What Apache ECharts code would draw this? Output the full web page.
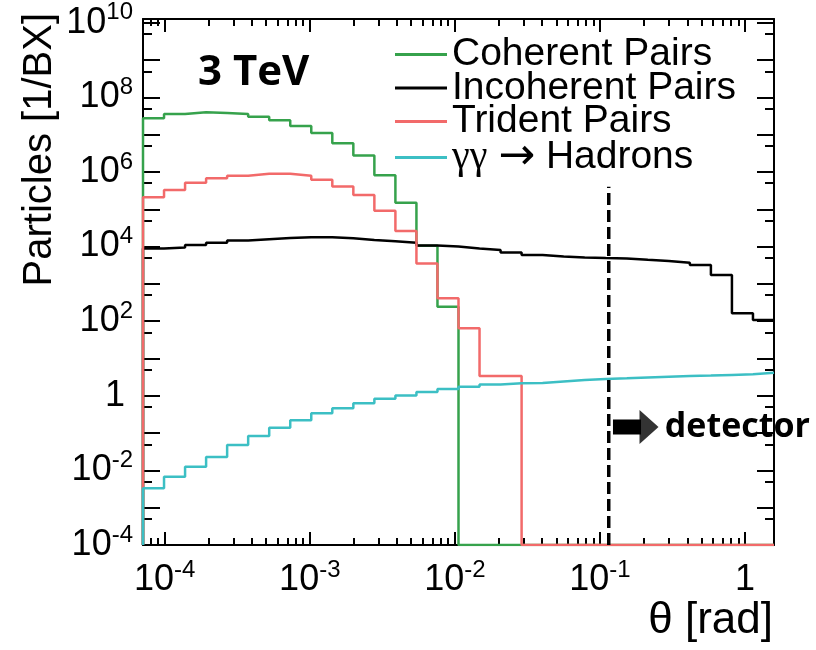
<!DOCTYPE html>
<html>
<head>
<meta charset="utf-8">
<script src="https://cdn.jsdelivr.net/npm/echarts@6/dist/echarts.min.js"></script>
<style>
  html, body { margin: 0; padding: 0; background: #fff; }
  #chart { width: 816px; height: 650px; }
</style>
</head>
<body>
<div id="chart"></div>
<script>
// bin edges of the histograms, as log10(theta / rad)
const logThetaEdges = [-4.15, -4.005, -3.86, -3.715, -3.57, -3.425, -3.28, -3.135, -2.99, -2.845,
  -2.7, -2.555, -2.41, -2.265, -2.12, -1.975, -1.83, -1.685, -1.54, -1.395,
  -1.25, -1.105, -0.96, -0.815, -0.67, -0.525, -0.38, -0.235, -0.09, 0.055, 0.2];

// particles per bunch crossing, one value per bin
const coherentPairs = [2.75e7, 3.55e7, 4.0e7, 3.8e7, 3.55e7, 3.0e7, 2.45e7, 1.7e7, 1.1e7, 5.9e6,
  2.75e6, 8.1e5, 1.5e5, 1.05e4, 245, 0, 0, 0, 0, 0,
  0, 0, 0, 0, 0, 0, 0, 0, 0, 0];
const incoherentPairs = [8.9e3, 9.5e3, 1.1e4, 1.26e4, 1.45e4, 1.58e4, 1.7e4, 1.78e4, 1.78e4, 1.66e4,
  1.51e4, 1.38e4, 1.26e4, 1.07e4, 1.0e4, 8.9e3, 8.1e3, 6.9e3, 5.9e3, 5.4e3,
  5.1e3, 4.9e3, 4.8e3, 4.4e3, 4.1e3, 3.7e3, 3.2e3, 1.74e3, 162, 107];
const tridentPairs = [2.1e5, 3.3e5, 5.1e5, 6.8e5, 7.9e5, 8.9e5, 8.9e5, 7.9e5, 6.2e5, 4.1e5,
  2.4e5, 9.1e4, 2.6e4, 3.5e3, 410, 65, 3.4, 3.4, 0, 0,
  0, 0, 0, 0, 0, 0, 0, 0, 0, 0];
const hadrons = [3.3e-3, 6.8e-3, 1.26e-2, 2.3e-2, 4.8e-2, 8.3e-2, 0.14, 0.22, 0.34, 0.46,
  0.63, 0.83, 1.02, 1.26, 1.51, 1.74, 2.0, 2.16, 2.19, 2.4,
  2.63, 2.82, 2.95, 3.09, 3.24, 3.39, 3.47, 3.63, 3.8, 4.17];

const seriesNames = ['Coherent Pairs', 'Incoherent Pairs', 'Trident Pairs', 'γγ → Hadrons'];
const seriesColors = ['#36a24c', '#000000', '#f26a6a', '#3cbfc4'];

// decades that carry a label
const xLabelExp = [-4, -3, -2, -1, 0];
const yLabelExp = [-4, -2, 0, 2, 4, 6, 8, 10];

// detector annotation (theta in rad, particles)
const detectorTheta = 0.115;
const detectorLineTop = 4e5;
const arrowFrom = 0.123, arrowTo = 0.192, arrowHead = 0.218, arrowLevel = 0.146;
const detectorTextTheta = 0.28;

const xMin = -4.15, xMax = 0.2;
const yMin = -4, yMax = 10.1;

const lg = v => Math.log10(v);

// ticks: long at every decade, short ones in between
let xMajor = [], xMinor = [];
for (let n = -5; n <= 0; n++) {
  if (n >= xMin && n <= xMax) xMajor.push(n);
  for (let m = 2; m <= 9; m++) {
    let t = n + lg(m);
    if (t > xMin && t < xMax) xMinor.push(t);
  }
}
let yMajor = [], yMinor = [];
for (let n = -4; n <= 10; n++) {
  yMajor.push(n);
  if (n > -4) yMinor.push(n - lg(2));
}

function histData(values) {
  let pts = [[logThetaEdges[0], yMin]];
  values.forEach((v, i) => {
    pts.push([logThetaEdges[i], v > 0 ? lg(v) : yMin]);
  });
  let last = values[values.length - 1];
  pts.push([logThetaEdges[values.length], last > 0 ? lg(last) : yMin]);
  return pts;
}

const FONT = 'Liberation Sans';
const rich = {
  b: {fontFamily: FONT, fontSize: 36, lineHeight: 44, color: '#000'},
  s: {fontFamily: FONT, fontSize: 24, lineHeight: 24, verticalAlign: 'top', color: '#000'},
  one: {fontFamily: FONT, fontSize: 36, lineHeight: 44, color: '#000'},
  oneY: {fontFamily: FONT, fontSize: 36, lineHeight: 44, color: '#000', padding: [0, 8, 0, 0]}
};
function powLabel(v, oneKey) {
  let n = Math.round(v);
  if (n === 0) return '{' + oneKey + '|1}';
  return '{b|10}{s|' + n + '}';
}

const frameLine = {show: true, onZero: false, lineStyle: {color: '#000', width: 2}};
const noLine = {show: false, onZero: false};

function xAxis(position, ticks, len, main) {
  return {
    type: 'value', position: position, min: xMin, max: xMax,
    axisLine: main ? frameLine : noLine,
    splitLine: {show: false},
    axisTick: {show: true, inside: true, length: len, customValues: ticks,
      lineStyle: {color: '#000', width: 2}},
    axisLabel: (main && position === 'bottom') ? {
      show: true, customValues: xLabelExp, margin: 13,
      formatter: v => powLabel(v, 'one'), rich: rich
    } : {show: false}
  };
}
function yAxis(position, ticks, len, main) {
  return {
    type: 'value', position: position, min: yMin, max: yMax,
    axisLine: main ? frameLine : noLine,
    splitLine: {show: false},
    axisTick: {show: true, inside: true, length: len, customValues: ticks,
      lineStyle: {color: '#000', width: 2}},
    axisLabel: (main && position === 'left') ? {
      show: true, customValues: yLabelExp, margin: 10,
      formatter: v => powLabel(v, 'oneY'), rich: rich
    } : {show: false}
  };
}

const xAxes = [
  xAxis('bottom', xMajor, 13, true),
  xAxis('bottom', xMinor, 7, false),
  xAxis('top', xMajor, 13, true),
  xAxis('top', xMinor, 7, false)
];
xAxes[0].name = 'θ [rad]';
xAxes[0].nameLocation = 'end';
xAxes[0].nameGap = -1;
xAxes[0].nameTextStyle = {fontFamily: FONT, fontSize: 44, color: '#000',
  align: 'right', verticalAlign: 'top', padding: [54, 0, 0, 0]};

const yAxes = [
  yAxis('left', yMajor, 17, true),
  yAxis('left', yMinor, 9, false),
  yAxis('right', yMajor, 17, true),
  yAxis('right', yMinor, 9, false)
];

const histograms = [coherentPairs, incoherentPairs, tridentPairs, hadrons];
const series = histograms.map((vals, i) => ({
  name: seriesNames[i],
  type: 'line',
  step: 'end',
  data: histData(vals),
  showSymbol: false,
  symbol: 'none',
  clip: true,
  silent: true,
  color: seriesColors[i],
  lineStyle: {color: seriesColors[i], width: 2.5},
  z: 3 + i
}));

series.push({
  name: 'detector line',
  type: 'line',
  data: [[lg(detectorTheta), yMin], [lg(detectorTheta), lg(detectorLineTop)]],
  symbol: 'none',
  silent: true,
  lineStyle: {color: '#000', width: 3.5, type: [12, 5]},
  z: 10
});
series.push({
  name: 'detector arrow',
  type: 'line',
  data: [[lg(arrowFrom), lg(arrowLevel)], [lg(arrowTo), lg(arrowLevel)]],
  symbol: 'none',
  silent: true,
  lineStyle: {color: '#000', width: 15, cap: 'butt'},
  z: 10
});
series.push({
  name: 'detector head',
  type: 'scatter',
  data: [[lg(arrowHead), lg(arrowLevel)]],
  symbol: 'triangle',
  symbolRotate: -90,
  symbolSize: [34, 19],
  silent: true,
  itemStyle: {color: '#000'},
  z: 10
});

const legendRich = {
  g: {fontFamily: 'Liberation Serif', fontSize: 40, lineHeight: 40, color: '#000'},
  a: {fontFamily: 'DejaVu Sans', fontSize: 44, lineHeight: 40, color: '#000'},
  t: {fontFamily: FONT, fontSize: 39, lineHeight: 40, color: '#000'}
};

const chart = echarts.init(document.getElementById('chart'), null, {renderer: 'canvas'});
chart.setOption({
  animation: false,
  backgroundColor: '#fff',
  grid: {left: 143, right: 42, top: 19, bottom: 105, containLabel: false},
  xAxis: xAxes,
  yAxis: yAxes,
  legend: {
    orient: 'vertical', left: 390, top: 30,
    icon: 'rect', itemWidth: 52, itemHeight: 3, itemGap: -5.5,
    selectedMode: false,
    formatter: name => name === seriesNames[3] ? '{g|γγ} {a|→} {t|Hadrons}' : name,
    textStyle: {fontFamily: FONT, fontSize: 39, color: '#000', rich: legendRich},
    data: seriesNames
  },
  graphic: [
    {
      type: 'text', x: 40, y: 13, rotation: Math.PI / 2,
      style: {text: 'Particles [1/BX]', fontFamily: FONT, fontSize: 40, fill: '#000',
        align: 'right', verticalAlign: 'middle'}
    },
    {
      type: 'text', x: 198, y: 73,
      style: {text: '3 TeV', fontFamily: 'Open Sans', fontWeight: 'bold', fontSize: 42,
        fill: '#000', align: 'left', verticalAlign: 'middle'}
    }
  ],
  series: series
});

// "detector" text placed through the axes' own scales
const textPos = chart.convertToPixel({gridIndex: 0}, [lg(detectorTextTheta), lg(arrowLevel)]);
chart.setOption({
  graphic: [
    {}, {},
    {
      type: 'text', x: textPos[0], y: textPos[1],
      style: {text: 'detector', fontFamily: 'Open Sans', fontWeight: 'bold', fontSize: 34,
        fill: '#000', align: 'left', verticalAlign: 'middle'}
    }
  ]
});
</script>
</body>
</html>
